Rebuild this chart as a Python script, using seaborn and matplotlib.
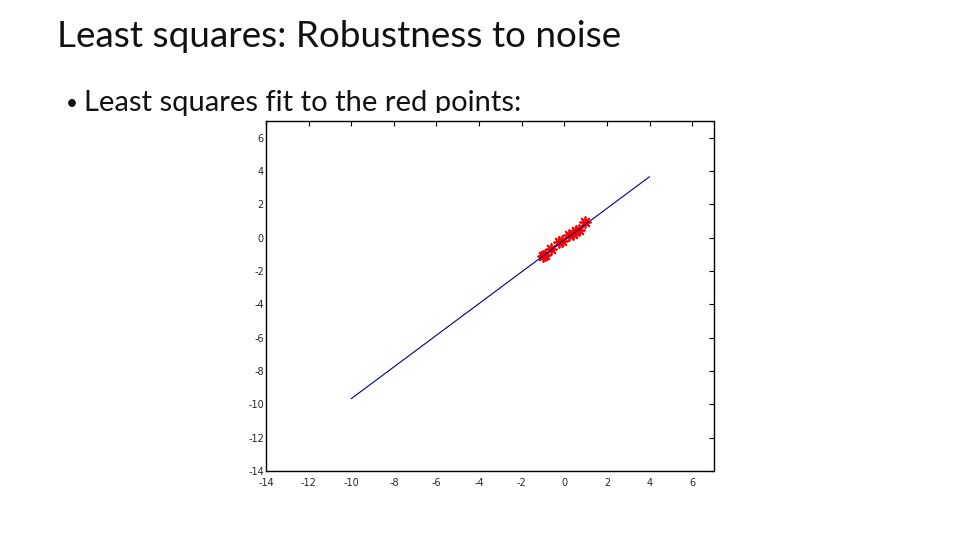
import matplotlib
matplotlib.use("Agg")
import matplotlib.pyplot as plt
import matplotlib.patches as mpatches
import seaborn as sns

# data
pts_x = [-1.02, -0.89, -0.62, -0.23, -0.11, 0.23, 0.39, 0.55, 0.70, 0.97]
pts_y = [-1.12, -1.02, -0.68, -0.28, -0.22, 0.18, 0.24, 0.38, 0.48, 0.92]
fit_x = [-10, 4]
fit_y = [-9.66, 3.66]
ticks = [-14, -12, -10, -8, -6, -4, -2, 0, 2, 4, 6]

sns.set_style("white")
plt.rcParams['font.family'] = ['Lato', 'DejaVu Sans']

fig = plt.figure(figsize=(9.6, 5.4), dpi=100)
fig.patch.set_facecolor("white")

# slide text
fig.text(57 / 960, 1 - 47 / 540, "Least squares: Robustness to noise",
         fontsize=26.6, color="#111111", ha="left", va="baseline")
fig.text(66 / 960, 1 - 110 / 540, "•", fontsize=15, color="#111111",
         ha="left", va="baseline")
fig.text(84 / 960, 1 - 111 / 540, "Least squares fit to the red points:",
         fontsize=21, color="#111111", ha="left", va="baseline")

# pasted plot image covers the bottom of the bullet line
cover = mpatches.Rectangle((228 / 960, 1 - 500 / 540), 510 / 960, 387 / 540,
                           transform=fig.transFigure, facecolor="white",
                           edgecolor="none", zorder=4)
fig.patches.append(cover)

ax = fig.add_axes([266 / 960, 1 - 471 / 540, 447.5 / 960, 350 / 540])
ax.set_zorder(5)

sns.lineplot(x=fit_x, y=fit_y, ax=ax, color="#000080", linewidth=0.8)
sns.scatterplot(x=pts_x, y=pts_y, ax=ax, marker=(8, 2, 0), color="red",
                s=60, linewidth=1.3)

ax.set_xlim(-14, 7)
ax.set_ylim(-14, 7)
ax.set_xticks(ticks)
ax.set_yticks(ticks)
ax.set_xticklabels([str(t) for t in ticks], family="DejaVu Sans")
ax.set_yticklabels([str(t) for t in ticks], family="DejaVu Sans")
ax.tick_params(direction="in", length=3.5, width=0.8, labelsize=7,
               top=True, right=True, color="black")
ax.tick_params(axis="x", pad=5)
ax.tick_params(axis="y", pad=1.5)
for s in ax.spines.values():
    s.set_color("black")
    s.set_linewidth(1.0)

fig.savefig("out.png", dpi=100, facecolor="white")
